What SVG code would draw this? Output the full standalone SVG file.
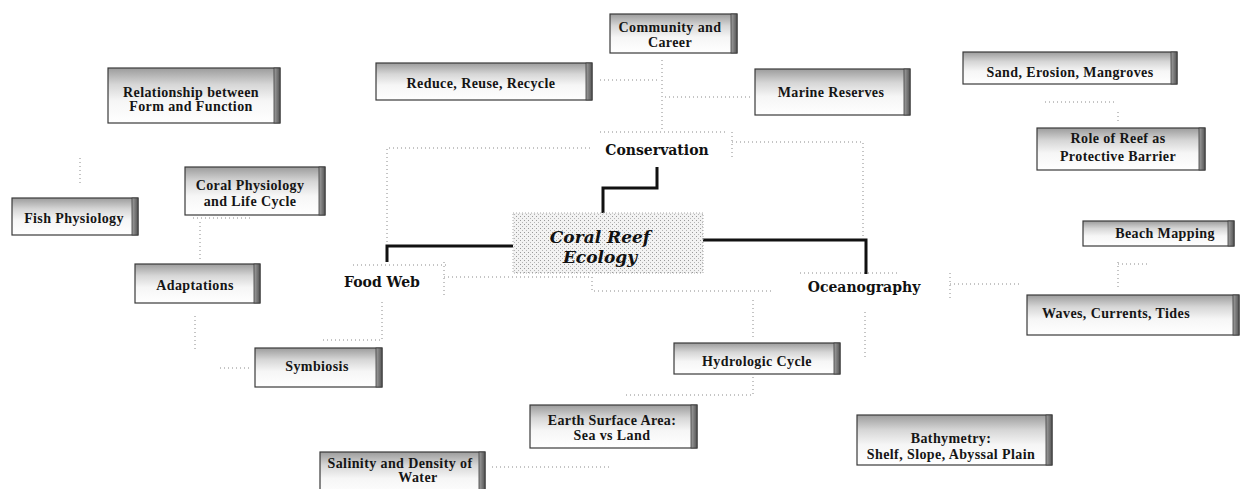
<svg xmlns="http://www.w3.org/2000/svg" width="1242" height="489" viewBox="0 0 1242 489">
<defs>
<linearGradient id="bg" x1="0" y1="0" x2="0" y2="1">
<stop offset="0" stop-color="#9c9c9c"/>
<stop offset="0.3" stop-color="#d6d6d6"/>
<stop offset="0.6" stop-color="#f6f6f6"/>
<stop offset="1" stop-color="#ffffff"/>
</linearGradient>
<linearGradient id="sg" x1="0" y1="0" x2="1" y2="0">
<stop offset="0" stop-color="#a0a0a0"/>
<stop offset="1" stop-color="#555"/>
</linearGradient>
<pattern id="stip" width="4" height="4" patternUnits="userSpaceOnUse">
<rect width="4" height="4" fill="#f3f3f3"/>
<rect x="0" y="0" width="1" height="1" fill="#9a9a9a"/>
<rect x="2" y="2" width="1" height="1" fill="#b5b5b5"/>
</pattern>
</defs>
<style>
.box{fill:url(#bg);stroke:#3a3a3a;stroke-width:1.2}
.side{fill:url(#sg);stroke:#3a3a3a;stroke-width:0.8}
.lbl{font-family:"Liberation Serif","DejaVu Serif",serif;font-size:14px;font-weight:bold;letter-spacing:0.4px;fill:#151515;text-anchor:middle}
.hub{font-family:"DejaVu Serif","Liberation Serif",serif;font-size:14px;font-weight:bold;fill:#111;text-anchor:middle}
.dot{fill:none;stroke:#8a8a8a;stroke-width:1;stroke-dasharray:1 3}
.thick{fill:none;stroke:#111;stroke-width:3}
</style>
<rect width="1242" height="489" fill="#fff"/>

<g id="connectors">
<path class="dot" d="M662 60V130"/>
<path class="dot" d="M600 80H660"/>
<path class="dot" d="M665 97H750"/>
<path class="dot" d="M600 132H725"/>
<path class="dot" d="M590 148H387V245"/>
<path class="dot" d="M732 132V157M732 142H863V240"/>
<path class="dot" d="M353 265H447"/>
<path class="dot" d="M444 262V297M444 277H592V291H773"/>
<path class="dot" d="M800 273H900"/>
<path class="dot" d="M950 273V300M950 284H1022"/>
<path class="dot" d="M1118 262V287M1118 264H1147"/>
<path class="dot" d="M865 312V357"/>
<path class="dot" d="M753 300V340"/>
<path class="dot" d="M753 377V395H623"/>
<path class="dot" d="M492 467H610"/>
<path class="dot" d="M382 302V340H320"/>
<path class="dot" d="M220 368H252"/>
<path class="dot" d="M195 316V352"/>
<path class="dot" d="M200 222V262M193 218H250"/>
<path class="dot" d="M80 158V186"/>
<path class="dot" d="M1045 102H1115M1118 112V124"/>
<path class="thick" d="M603 220V188H657V167"/>
<path class="thick" d="M513 246H387V262"/>
<path class="thick" d="M700 240H866V274"/>
</g>

<g id="center">
<rect x="513" y="213" width="190" height="60" fill="url(#stip)" stroke="#aaa" stroke-width="1" stroke-dasharray="1 2"/>
<text x="600" y="243" font-family="DejaVu Serif, Liberation Serif, serif" font-size="17" font-weight="bold" font-style="italic" text-anchor="middle" fill="#111">Coral Reef</text>
<text x="600" y="263" font-family="DejaVu Serif, Liberation Serif, serif" font-size="17" font-weight="bold" font-style="italic" text-anchor="middle" fill="#111">Ecology</text>
</g>
<g id="conservation"><text class="hub" x="657" y="155">Conservation</text></g>
<g id="foodweb"><text class="hub" x="382" y="287">Food Web</text></g>
<g id="oceanography"><text class="hub" x="864" y="292">Oceanography</text></g>

<g id="community"><rect class="box" x="610" y="14" width="127" height="39"/><rect class="side" x="731" y="14" width="6" height="39"/><text class="lbl" x="670" y="32">Community and</text><text class="lbl" x="670" y="47">Career</text></g>
<g id="reduce"><rect class="box" x="376" y="63" width="216" height="37"/><rect class="side" x="586" y="63" width="6" height="37"/><text class="lbl" x="481" y="88">Reduce, Reuse, Recycle</text></g>
<g id="marine"><rect class="box" x="755" y="69" width="155" height="46"/><rect class="side" x="904" y="69" width="6" height="46"/><text class="lbl" x="831" y="97">Marine Reserves</text></g>
<g id="relationship"><rect class="box" x="108" y="68" width="172" height="55"/><rect class="side" x="274" y="68" width="6" height="55"/><text class="lbl" x="191" y="97">Relationship between</text><text class="lbl" x="191" y="111">Form and Function</text></g>
<g id="coralphys"><rect class="box" x="185" y="167" width="140" height="48"/><rect class="side" x="319" y="167" width="6" height="48"/><text class="lbl" x="250" y="190">Coral Physiology</text><text class="lbl" x="250" y="206">and Life Cycle</text></g>
<g id="fish"><rect class="box" x="12" y="198" width="126" height="37"/><rect class="side" x="132" y="198" width="6" height="37"/><text class="lbl" x="74" y="223">Fish Physiology</text></g>
<g id="adaptations"><rect class="box" x="135" y="264" width="125" height="39"/><rect class="side" x="254" y="264" width="6" height="39"/><text class="lbl" x="195" y="290">Adaptations</text></g>
<g id="symbiosis"><rect class="box" x="255" y="348" width="127" height="39"/><rect class="side" x="376" y="348" width="6" height="39"/><text class="lbl" x="317" y="371">Symbiosis</text></g>
<g id="sand"><rect class="box" x="963" y="52" width="214" height="32"/><rect class="side" x="1171" y="52" width="6" height="32"/><text class="lbl" x="1070" y="77">Sand, Erosion, Mangroves</text></g>
<g id="role"><rect class="box" x="1037" y="128" width="168" height="42"/><rect class="side" x="1199" y="128" width="6" height="42"/><text class="lbl" x="1118" y="143">Role of Reef as</text><text class="lbl" x="1118" y="161">Protective Barrier</text></g>
<g id="beach"><rect class="box" x="1083" y="221" width="151" height="25"/><rect class="side" x="1228" y="221" width="6" height="25"/><text class="lbl" x="1165" y="238">Beach Mapping</text></g>
<g id="waves"><rect class="box" x="1027" y="295" width="212" height="40"/><rect class="side" x="1233" y="295" width="6" height="40"/><text class="lbl" x="1116" y="318">Waves, Currents, Tides</text></g>
<g id="hydro"><rect class="box" x="674" y="343" width="166" height="31"/><rect class="side" x="834" y="343" width="6" height="31"/><text class="lbl" x="757" y="366">Hydrologic Cycle</text></g>
<g id="earth"><rect class="box" x="530" y="405" width="167" height="43"/><rect class="side" x="691" y="405" width="6" height="43"/><text class="lbl" x="612" y="425">Earth Surface Area:</text><text class="lbl" x="612" y="440">Sea vs Land</text></g>
<g id="salinity"><rect class="box" x="320" y="452" width="165" height="44"/><rect class="side" x="479" y="452" width="6" height="44"/><text class="lbl" x="400" y="468">Salinity and Density of</text><text class="lbl" x="418" y="482">Water</text></g>
<g id="bathymetry"><rect class="box" x="857" y="415" width="195" height="50"/><rect class="side" x="1046" y="415" width="6" height="50"/><text class="lbl" x="951" y="443">Bathymetry:</text><text class="lbl" x="951" y="459">Shelf, Slope, Abyssal Plain</text></g>
</svg>
